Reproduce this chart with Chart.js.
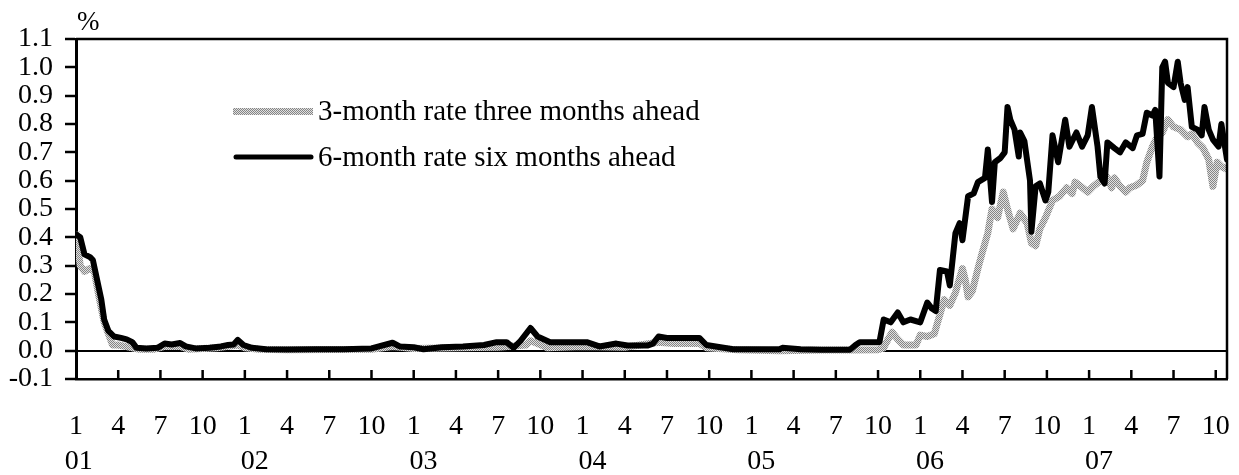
<!DOCTYPE html>
<html>
<head>
<meta charset="utf-8">
<script src="https://cdn.jsdelivr.net/npm/chart.js@4"></script>
<style>
  html, body { margin: 0; padding: 0; background: #fff; }
  #wrap { width: 1239px; height: 475px; }
</style>
</head>
<body>
<div id="wrap"><canvas id="rates"></canvas></div>
<script>
// months since Jan 2001 (0 = Jan 01)
const months3 = [0,0.3,0.6,1.0,1.3,1.6,2.0,2.3,2.6,3.0,3.5,4.0,4.5,5.5,6.3,7.4,8.0,10.0,11.5,12.0,
  13.0,15.0,18.0,21.0,22.5,24.0,27.0,30.0,32.0,32.3,32.8,33.5,36.0,39.0,41.4,42.5,44.3,44.8,47.0,50.0,
  53.0,55.0,57.0,57.4,57.6,58.0,58.4,58.8,59.7,60.0,60.5,61.0,61.7,62.1,62.5,63.0,63.2,63.4,63.7,64.1,
  64.4,64.8,65.1,65.5,65.9,66.2,66.6,67.1,67.6,67.9,68.2,68.5,68.9,69.4,69.9,70.4,70.8,71.0,71.4,71.9,
  72.3,72.8,73.0,73.3,73.6,73.8,74.2,74.6,74.9,75.4,75.8,76.1,76.5,76.8,77.2,77.6,78.0,78.5,79.0,79.3,
  79.7,80.1,80.5,80.8,81.1,81.4,81.8];
const rate3 = [0.42,0.30,0.28,0.29,0.28,0.20,0.10,0.06,0.02,0.02,0.015,0.01,0.005,0.005,0.015,0.015,0.005,0.01,0.02,0.01,
  0.005,0.003,0.004,0.005,0.015,0.008,0.01,0.012,0.02,0.035,0.025,0.01,0.015,0.012,0.03,0.025,0.025,0.01,0.003,0.0,
  0.002,0.002,0.003,0.01,0.03,0.065,0.04,0.02,0.02,0.055,0.05,0.06,0.18,0.16,0.205,0.29,0.25,0.19,0.21,0.29,
  0.345,0.415,0.5,0.47,0.56,0.5,0.43,0.485,0.45,0.38,0.37,0.43,0.47,0.53,0.545,0.575,0.555,0.595,0.58,0.56,
  0.58,0.6,0.63,0.61,0.575,0.61,0.58,0.56,0.575,0.585,0.6,0.665,0.72,0.75,0.77,0.815,0.79,0.78,0.755,0.765,
  0.735,0.715,0.675,0.58,0.665,0.65,0.64];

const months6 = [0,0.3,0.6,1.0,1.2,1.5,1.8,2.0,2.3,2.7,3.2,3.6,4.0,4.3,5.0,5.8,6.3,6.8,7.4,7.8,
  8.5,9.5,10.3,10.8,11.2,11.5,11.9,12.5,13.5,15.0,17.0,19.0,21.0,22.5,23.0,24.0,24.7,26.0,27.5,29.0,
  29.9,30.6,31.1,31.6,32.3,32.8,33.7,34.9,36.3,37.2,38.4,39.2,40.6,41.0,41.4,42.0,43.2,44.3,44.8,45.8,
  46.7,50.0,50.2,51.5,53.0,55.0,55.4,55.7,57.1,57.4,57.9,58.4,58.8,59.3,60.0,60.5,60.8,61.1,61.4,61.9,
  62.1,62.5,62.8,63.0,63.4,63.8,64.1,64.6,64.8,65.1,65.3,65.7,66.0,66.2,66.4,66.7,67.0,67.1,67.4,67.8,
  67.9,68.2,68.5,68.9,69.1,69.4,69.8,70.3,70.6,71.1,71.5,71.9,72.2,72.6,72.8,73.1,73.3,73.8,74.2,74.6,
  75.1,75.4,75.8,76.1,76.5,76.7,77.0,77.2,77.4,77.6,78.0,78.3,78.5,78.8,79.0,79.3,79.7,80.0,80.2,80.5,
  80.8,81.2,81.4,81.8];
const rate6 = [0.41,0.40,0.34,0.33,0.32,0.25,0.18,0.11,0.07,0.05,0.045,0.04,0.03,0.01,0.008,0.01,0.025,0.022,0.027,0.015,
  0.008,0.01,0.015,0.02,0.022,0.038,0.02,0.01,0.005,0.004,0.005,0.005,0.008,0.028,0.015,0.012,0.005,0.012,0.015,0.02,
  0.03,0.03,0.01,0.035,0.08,0.05,0.03,0.03,0.03,0.015,0.025,0.018,0.018,0.025,0.05,0.045,0.045,0.045,0.02,0.012,
  0.005,0.005,0.01,0.005,0.003,0.003,0.02,0.03,0.03,0.11,0.10,0.135,0.10,0.11,0.10,0.17,0.15,0.14,0.285,0.28,
  0.23,0.415,0.45,0.39,0.545,0.555,0.595,0.61,0.71,0.525,0.665,0.68,0.70,0.86,0.815,0.78,0.685,0.77,0.74,0.60,
  0.42,0.58,0.59,0.53,0.56,0.76,0.665,0.815,0.72,0.77,0.72,0.76,0.86,0.72,0.615,0.59,0.735,0.715,0.70,0.735,
  0.715,0.76,0.765,0.84,0.83,0.85,0.615,1.0,1.02,0.945,0.93,1.02,0.945,0.885,0.93,0.79,0.78,0.76,0.86,0.78,
  0.745,0.72,0.80,0.675];

const monthLabels = ['1', '4', '7', '10'];
const yearLabels = ['01', '02', '03', '04', '05', '06', '07'];
const seriesNames = ['3-month rate three months ahead', '6-month rate six months ahead'];

const FONT = '"Liberation Serif", "Times New Roman", serif';
const X_MAX = 81.8;

const toPoints = (xs, ys) => ys.map((y, i) => ({ x: xs[i], y: y }));

// grey stipple like the original print
function stipple() {
  const c = document.createElement('canvas');
  c.width = 2; c.height = 2;
  const g = c.getContext('2d');
  g.fillStyle = '#e0e0e0';
  g.fillRect(0, 0, 2, 2);
  g.fillStyle = '#858585';
  g.fillRect(0, 0, 1, 1);
  g.fillRect(1, 1, 1, 1);
  return g.createPattern(c, 'repeat');
}
const grey = stipple();

const frame = {
  id: 'frame',
  afterDraw(chart) {
    const { ctx, chartArea: a, scales } = chart;
    const x = scales.x;
    ctx.save();
    ctx.strokeStyle = '#000';
    ctx.lineWidth = 2.5;
    ctx.beginPath();
    ctx.moveTo(a.left, a.top);
    ctx.lineTo(a.right, a.top);
    ctx.lineTo(a.right, a.bottom);
    x.ticks.forEach(t => {
      if (t.value === 0) return;
      const px = x.getPixelForValue(t.value);
      ctx.moveTo(px, a.bottom);
      ctx.lineTo(px, a.bottom - 9);
    });
    ctx.stroke();

    ctx.fillStyle = '#000';
    ctx.font = '27px ' + FONT;
    ctx.textAlign = 'left';
    ctx.textBaseline = 'alphabetic';
    ctx.fillText('%', a.left + 1, 30);

    // legend
    const lx = 233, ly = [111, 157];
    ctx.fillStyle = grey;
    ctx.fillRect(lx, ly[0] - 3, 80, 7);
    ctx.strokeStyle = '#000';
    ctx.lineWidth = 5;
    ctx.lineCap = 'round';
    ctx.beginPath();
    ctx.moveTo(lx + 3, ly[1]);
    ctx.lineTo(lx + 78, ly[1]);
    ctx.stroke();
    ctx.fillStyle = '#000';
    ctx.font = '29px ' + FONT;
    ctx.textBaseline = 'middle';
    seriesNames.forEach((s, i) => ctx.fillText(s, lx + 85, ly[i] + 1));
    ctx.restore();
  }
};

const noSidePadding = axis => { axis.paddingLeft = 0; axis.paddingRight = 0; };

new Chart(document.getElementById('rates'), {
  type: 'line',
  data: {
    datasets: [
      {
        label: seriesNames[1],
        data: toPoints(months6, rate6),
        borderColor: '#000',
        borderWidth: 6,
        pointRadius: 0,
        tension: 0,
        borderJoinStyle: 'round',
        borderCapStyle: 'round'
      },
      {
        label: seriesNames[0],
        data: toPoints(months3, rate3),
        borderColor: grey,
        borderWidth: 7,
        pointRadius: 0,
        tension: 0,
        borderJoinStyle: 'round'
      }
    ]
  },
  options: {
    responsive: true,
    maintainAspectRatio: false,
    animation: false,
    layout: { autoPadding: false, padding: { top: 39, right: 12, left: 0, bottom: 0 } },
    plugins: { legend: { display: false }, tooltip: { enabled: false } },
    scales: {
      x: {
        type: 'linear',
        position: 'bottom',
        min: 0,
        max: X_MAX,
        weight: 1,
        border: { color: '#000', width: 2.5 },
        grid: { drawOnChartArea: false, drawTicks: false },
        ticks: {
          stepSize: 3,
          includeBounds: false,
          autoSkip: false,
          maxRotation: 0,
          padding: 31,
          color: '#000',
          font: { family: FONT, size: 28 },
          callback: v => monthLabels[Math.round(v / 3) % 4]
        },
        afterFit: axis => { axis.height = 62; noSidePadding(axis); }
      },
      years: {
        type: 'linear',
        position: 'bottom',
        min: 0,
        max: X_MAX,
        weight: 2,
        border: { display: false },
        grid: { display: false, drawTicks: false },
        afterBuildTicks: axis => {
          axis.ticks = yearLabels.map((_, i) => ({ value: i * 12 + (i === 0 ? 0.2 : 0.7) }));
        },
        ticks: {
          autoSkip: false,
          maxRotation: 0,
          padding: 4,
          color: '#000',
          font: { family: FONT, size: 28 },
          callback: (v, i) => yearLabels[i]
        },
        afterFit: axis => { axis.height = 34; noSidePadding(axis); }
      },
      y: {
        min: -0.1,
        max: 1.1,
        border: { color: '#000', width: 3 },
        grid: {
          drawOnChartArea: true,
          color: c => (c.tick && Math.abs(c.tick.value) < 1e-9 ? '#000' : 'rgba(0,0,0,0)'),
          lineWidth: 2,
          tickColor: '#000',
          tickWidth: 2.5,
          tickLength: 11
        },
        ticks: {
          stepSize: 0.1,
          autoSkip: false,
          padding: 12,
          color: '#000',
          font: { family: FONT, size: 28 },
          callback: v => v.toFixed(1)
        },
        afterFit: axis => { axis.width = 76; }
      }
    }
  },
  plugins: [frame]
});
</script>
</body>
</html>
